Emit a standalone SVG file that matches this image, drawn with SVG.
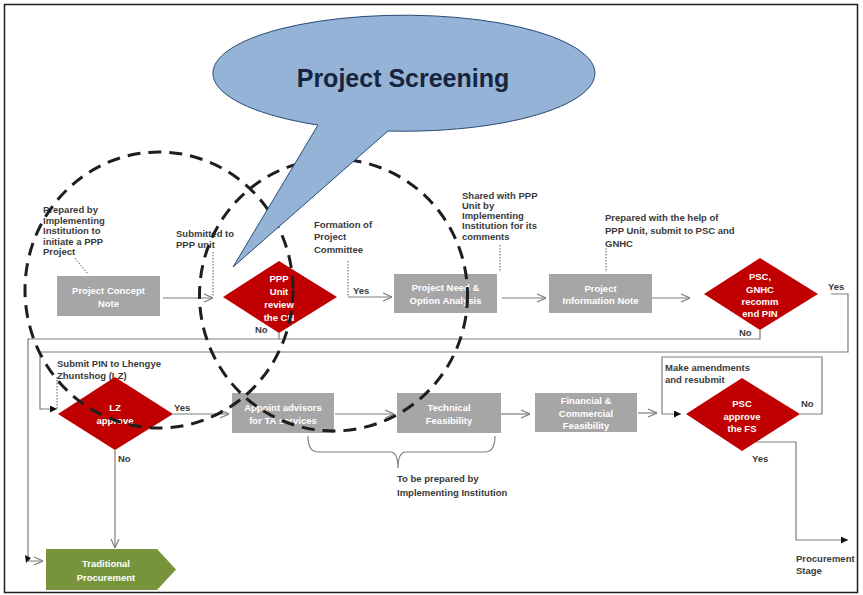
<svg xmlns="http://www.w3.org/2000/svg" width="863" height="595" viewBox="0 0 863 595">
<style>
.lbl{font-family:"Liberation Sans",Arial,sans-serif;font-weight:bold;font-size:9.5px;fill:#3a3a3a}
.nt{font-family:"Liberation Sans",Arial,sans-serif;font-weight:bold;font-size:9.5px;fill:#ffffff;text-anchor:middle}
.box{fill:#a6a6a6}
.dia{fill:#c00000}
.ln{fill:none;stroke:#7f7f7f;stroke-width:1.2}
.dot{fill:none;stroke:#555;stroke-width:1;stroke-dasharray:1.5 1.5}
.dash{fill:none;stroke:#1e1e1e;stroke-width:3;stroke-dasharray:13 8}
</style>
<defs>
<marker id="open" viewBox="0 0 10 10" refX="10" refY="5" markerWidth="10" markerHeight="10" markerUnits="userSpaceOnUse" orient="auto"><path d="M1,1 L10,5 L1,9" fill="none" stroke="#7f7f7f" stroke-width="1.2"/></marker>
<marker id="fill" viewBox="0 0 10 10" refX="10" refY="5" markerWidth="7" markerHeight="7" markerUnits="userSpaceOnUse" orient="auto"><path d="M0,0 L10,5 L0,10 Z" fill="#111"/></marker>
</defs>
<rect x="0" y="0" width="863" height="595" fill="#ffffff"/>
<rect id="frame" x="4.5" y="4.5" width="853" height="588" fill="none" stroke="#1a1f1a" stroke-width="1.5"/>

<g id="connectors">
<path class="ln" d="M163,298 H213" marker-end="url(#open)"/>
<path class="ln" d="M348,297 H392" marker-end="url(#open)"/>
<path class="ln" d="M502,298 H546" marker-end="url(#open)"/>
<path class="ln" d="M652,298 H690" marker-end="url(#open)"/>
<path class="ln" d="M279,333 V339"/>
<path class="ln" d="M760,330 V339 H28 V561 H43" marker-end="url(#open)"/>
<polygon points="25,555 31,558 26,563" fill="#111"/>
<path class="ln" d="M831,294 H848 V352 H40 V409 H57" marker-end="url(#fill)"/>
<path class="ln" d="M173,414 H229" marker-end="url(#open)"/>
<path class="ln" d="M115,450 V548" marker-end="url(#open)"/>
<path class="ln" d="M335,414 H394" marker-end="url(#open)"/>
<path class="ln" d="M501,414 H530" marker-end="url(#open)"/>
<path class="ln" d="M638,413 H657" marker-end="url(#open)"/>
<path class="ln" d="M800,414 H822 V357 H662 V414 H681" marker-end="url(#fill)"/>
<path class="ln" d="M756,442 H796 V540 H848" marker-end="url(#fill)"/>
<path class="dot" d="M75,258 L88,274"/>
<path class="dot" d="M213,252 V297"/>
<path class="dot" d="M348,261 V297"/>
<path class="dot" d="M500,245 V272"/>
<path class="dot" d="M606,248 V272"/>
<path class="dot" d="M57,377 V409"/>
<path class="ln" d="M308,436 Q308,452 318,452 H390 Q398,452 398,468 Q398,452 406,452 H485 Q495,452 495,436"/>
</g>

<g id="labels">
<text class="lbl" x="43" y="213">Prepared by</text>
<text class="lbl" x="43" y="223.5">Implementing</text>
<text class="lbl" x="43" y="234">Institution to</text>
<text class="lbl" x="43" y="244.5">initiate a PPP</text>
<text class="lbl" x="43" y="255">Project</text>
<text class="lbl" x="176" y="236.5">Submitted to</text>
<text class="lbl" x="176" y="248">PPP unit</text>
<text class="lbl" x="314" y="227.5">Formation of</text>
<text class="lbl" x="314" y="240">Project</text>
<text class="lbl" x="314" y="252.5">Committee</text>
<text class="lbl" x="353" y="293.5">Yes</text>
<text class="lbl" x="255" y="332.5">No</text>
<text class="lbl" x="462" y="198.5">Shared with PPP</text>
<text class="lbl" x="462" y="208.5">Unit by</text>
<text class="lbl" x="462" y="218.5">Implementing</text>
<text class="lbl" x="462" y="229">Institution for its</text>
<text class="lbl" x="462" y="240">comments</text>
<text class="lbl" x="605" y="221">Prepared with the help of</text>
<text class="lbl" x="605" y="234">PPP Unit, submit to PSC and</text>
<text class="lbl" x="605" y="247">GNHC</text>
<text class="lbl" x="828" y="289.5">Yes</text>
<text class="lbl" x="739" y="335.5">No</text>
<text class="lbl" x="57" y="366.5">Submit PIN to Lhengye</text>
<text class="lbl" x="57" y="378.5">Zhuntshog (LZ)</text>
<text class="lbl" x="174" y="410.5">Yes</text>
<text class="lbl" x="118" y="461.5">No</text>
<text class="lbl" x="665" y="370.5">Make amendments</text>
<text class="lbl" x="665" y="382.5">and resubmit</text>
<text class="lbl" x="801" y="406.5">No</text>
<text class="lbl" x="752" y="461.5">Yes</text>
<text class="lbl" x="397" y="481.5">To be prepared by</text>
<text class="lbl" x="397" y="495.5">Implementing Institution</text>
<text class="lbl" x="796" y="561.5">Procurement</text>
<text class="lbl" x="796" y="573.5">Stage</text>
</g>

<g id="concept-note">
<rect class="box" x="57" y="276" width="103" height="40"/>
<text class="nt" x="108.5" y="293.5">Project Concept</text>
<text class="nt" x="108.5" y="306.5">Note</text>
</g>
<g id="ppp-review">
<polygon class="dia" points="223,297 279,261 337,297 279,333"/>
<text class="nt" x="279" y="281.5">PPP</text>
<text class="nt" x="279" y="294.5">Unit</text>
<text class="nt" x="279" y="307.5">review</text>
<text class="nt" x="279" y="320.5">the CN</text>
</g>
<g id="need-analysis">
<rect class="box" x="394" y="274" width="103" height="39"/>
<text class="nt" x="445.5" y="290.5">Project Need &amp;</text>
<text class="nt" x="445.5" y="303.5">Option Analysis</text>
</g>
<g id="info-note">
<rect class="box" x="549" y="274" width="103" height="39"/>
<text class="nt" x="600.5" y="291.5">Project</text>
<text class="nt" x="600.5" y="303.5">Information Note</text>
</g>
<g id="psc-gnhc">
<polygon class="dia" points="704,294 760,258 818,294 760,330"/>
<text class="nt" x="760" y="279.5">PSC,</text>
<text class="nt" x="760" y="292.5">GNHC</text>
<text class="nt" x="760" y="304.5">recomm</text>
<text class="nt" x="760" y="316.5">end PIN</text>
</g>
<g id="lz-approve">
<polygon class="dia" points="58,414 115,377 173,414 115,450"/>
<text class="nt" x="115" y="410.5">LZ</text>
<text class="nt" x="115" y="423.5">approve</text>
</g>
<g id="appoint-advisors">
<rect class="box" x="232" y="393" width="102" height="40"/>
<text class="nt" x="283" y="410.5">Appoint advisors</text>
<text class="nt" x="283" y="423.5">for TA services</text>
</g>
<g id="technical-feasibility">
<rect class="box" x="397" y="393" width="104" height="40"/>
<text class="nt" x="449" y="410.5">Technical</text>
<text class="nt" x="449" y="423.5">Feasibility</text>
</g>
<g id="financial-feasibility">
<rect class="box" x="535" y="393" width="102" height="39"/>
<text class="nt" x="586" y="403.5">Financial &amp;</text>
<text class="nt" x="586" y="416.5">Commercial</text>
<text class="nt" x="586" y="428.5">Feasibility</text>
</g>
<g id="psc-approve">
<polygon class="dia" points="686,414 742,378 800,414 742,451"/>
<text class="nt" x="742" y="406.5">PSC</text>
<text class="nt" x="742" y="419.5">approve</text>
<text class="nt" x="742" y="431.5">the FS</text>
</g>
<g id="traditional-procurement">
<polygon points="46,549 157,549 176,569.5 157,590 46,590" fill="#77933c"/>
<text class="nt" x="106" y="566.5">Traditional</text>
<text class="nt" x="106" y="580.5">Procurement</text>
</g>

<g id="screening-circles">
<ellipse class="dash" cx="159" cy="290" rx="134" ry="138"/>
<ellipse class="dash" cx="333.5" cy="295" rx="134" ry="136"/>
</g>

<g id="project-screening">
<path d="M318,125 L233,267 L388,131 A191,58 0 1,0 318,125 Z" fill="#95b3d7" stroke="#2a4a75" stroke-width="1"/>
<text x="403" y="86.5" text-anchor="middle" font-family="'Liberation Sans',Arial,sans-serif" font-weight="bold" font-size="25" fill="#17243d">Project Screening</text>
</g>
</svg>
